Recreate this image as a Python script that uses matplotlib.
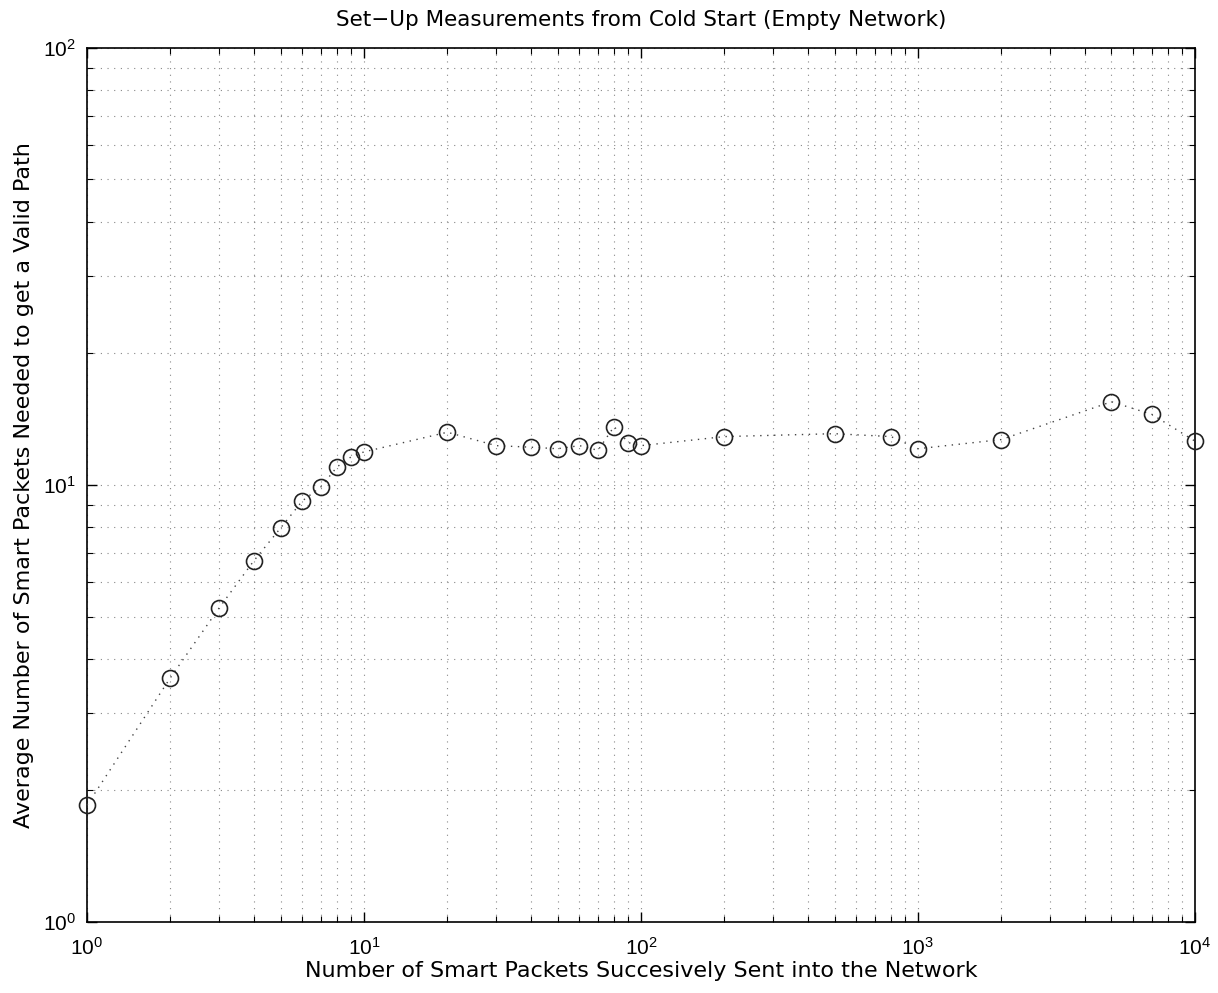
import matplotlib
matplotlib.use("Agg")
import matplotlib.pyplot as plt

# data
packets = [1, 2, 3, 4, 5, 6, 7, 8, 9, 10,
           20, 30, 40, 50, 60, 70, 80, 90, 100,
           200, 500, 800, 1000, 2000, 5000, 7000, 10000]
avg_needed = [1.85, 3.62, 5.23, 6.70, 7.97, 9.2, 9.9, 11.0, 11.6, 11.9,
              13.2, 12.3, 12.2, 12.1, 12.3, 12.0, 13.6, 12.5, 12.3,
              12.9, 13.1, 12.9, 12.1, 12.7, 15.5, 14.5, 12.6]

title = "Set\u2212Up Measurements from Cold Start (Empty Network)"
xlabel = "Number of Smart Packets Succesively Sent into the Network"
ylabel = "Average Number of Smart Packets Needed to get a Valid Path"

plt.rcParams['font.family'] = ['Liberation Sans', 'DejaVu Sans']
plt.rcParams['mathtext.fontset'] = 'custom'
plt.rcParams['mathtext.rm'] = 'Liberation Sans'
plt.rcParams['mathtext.it'] = 'Liberation Sans'

fig = plt.figure(figsize=(12.18, 9.93), dpi=100)
ax = fig.add_axes([0.0714, 0.0715, 0.9096, 0.8803])

ax.plot(packets, avg_needed, linestyle=(0, (1, 4)), color='#444444', linewidth=1.0,
        marker='o', markersize=11.5, markerfacecolor='none', markeredgecolor='#222222',
        markeredgewidth=1.2, clip_on=False, zorder=3)

ax.set_xscale('log')
ax.set_yscale('log')
ax.set_xlim(1, 1e4)
ax.set_ylim(1, 100)

ax.grid(True, which='both', linestyle=(0, (1, 5)), color='#888888', linewidth=0.8)
ax.tick_params(which='both', direction='in', top=True, right=True, labelsize=15)
ax.tick_params(axis='x', which='major', pad=11)
ax.tick_params(axis='y', which='major', pad=8)
ax.tick_params(which='major', length=7, width=1)
ax.tick_params(which='minor', length=4, width=0.8)
for s in ax.spines.values():
    s.set_linewidth(1.2)

lab_font = {'family': 'DejaVu Sans', 'fontsize': 16}
ax.set_title(title, family='DejaVu Sans', fontsize=15.5, pad=16)
ax.set_xlabel(xlabel, labelpad=1, **lab_font)
ax.set_ylabel(ylabel, labelpad=6, **lab_font)

fig.savefig('out.png', dpi=100)
